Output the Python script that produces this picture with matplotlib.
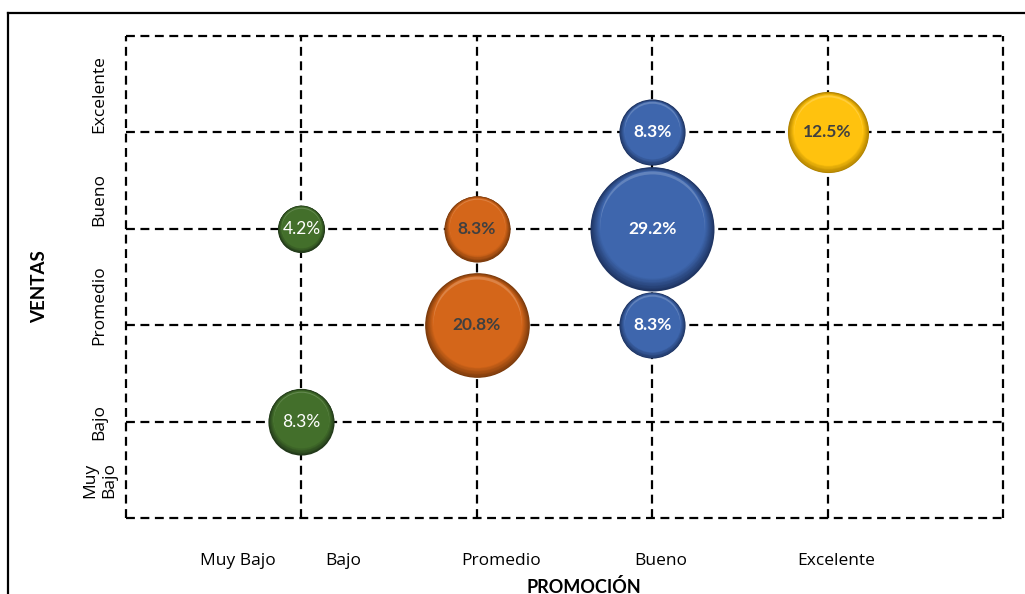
import matplotlib.pyplot as plt
import matplotlib.colors as mcolors
import matplotlib.transforms as mtransforms
import numpy as np
from matplotlib.lines import Line2D

# niveles de la escala (promoción en X, ventas en Y)
niveles_x = ['Muy Bajo', 'Bajo', 'Promedio', 'Bueno', 'Excelente']
niveles_y = ['Muy\nBajo', 'Bajo', 'Promedio', 'Bueno', 'Excelente']

# burbujas: posición en la escala y porcentaje de empresas
promocion = [1, 1, 2, 2, 3, 3, 3, 4]
ventas = [3, 1, 3, 2, 4, 3, 2, 4]
porcentaje = [4.2, 8.3, 8.3, 20.8, 8.3, 29.2, 8.3, 12.5]
grupo = ['bajo', 'bajo', 'prom', 'prom', 'bueno', 'bueno', 'bueno', 'exc']

# posiciones de las etiquetas de los ejes
pos_x = [0.64, 1.24, 2.14, 3.05, 4.05]
pos_y = [0.39, 1.0, 2.21, 3.30, 4.40]

estilo = {
    'bajo':  dict(base='#436f2b', borde='#22391a', texto='white', peso='normal'),
    'prom':  dict(base='#d4661a', borde='#7a3a0c', texto='#404040', peso='bold'),
    'bueno': dict(base='#3e66ad', borde='#1f3563', texto='white', peso='bold'),
    'exc':   dict(base='#ffc20e', borde='#b08200', texto='#404040', peso='bold'),
}

ESCALA = 273  # puntos^2 por punto porcentual

fig = plt.figure(figsize=(10.25, 5.94), dpi=100)
ax = fig.add_axes([0.1229, 0.128, 0.8556, 0.8114])
ax.set_xlim(0, 5)
ax.set_ylim(0, 5)

# rejilla punteada, incluido el marco
for v in range(6):
    ax.axvline(v, color='black', lw=1.6, ls=(0, (4, 2.5)), clip_on=False, zorder=1)
    ax.axhline(v, color='black', lw=1.6, ls=(0, (4, 2.5)), clip_on=False, zorder=1)
for s in ax.spines.values():
    s.set_visible(False)


def desplazado(dy):
    return mtransforms.offset_copy(ax.transData, fig=fig, x=0, y=dy, units='points')


# burbujas con bisel: borde oscuro abajo, brillo arriba
for x, y, p, g in zip(promocion, ventas, porcentaje, grupo):
    st = estilo[g]
    s = p * ESCALA
    d = np.sqrt(s)
    base = np.array(mcolors.to_rgb(st['base']))
    borde = np.array(mcolors.to_rgb(st['borde']))
    n = 12
    for i in range(n):
        t = i / (n - 1)
        f = 1.0 - 0.14 * t
        c = borde * (1 - t) + base * t
        ax.scatter([x], [y], s=s * f ** 2, color=c, lw=0, zorder=3,
                   transform=desplazado(0.035 * d * t))
    # arco de brillo en la parte superior
    luz = base * 0.45 + 0.55
    ax.scatter([x], [y], s=s * 0.84 ** 2, color=luz, alpha=0.35, lw=0, zorder=4,
               transform=desplazado(0.045 * d))
    ax.scatter([x], [y], s=s * 0.84 ** 2, color=base, lw=0, zorder=4,
               transform=desplazado(0.02 * d))
    ax.text(x, y, f'{p:.1f}%', ha='center', va='center', color=st['texto'],
            fontsize=12.5, fontweight=st['peso'], family='Lato', zorder=5)

ax.set_xticks(pos_x, niveles_x, fontsize=12.5, family='Open Sans')
ax.set_yticks(pos_y, niveles_y, fontsize=12.5, family='Open Sans',
              rotation=90, ha='center', va='center')
ax.tick_params(axis='x', length=0, pad=25)
ax.tick_params(axis='y', length=0, pad=19)

fig.text(0.570, 0.002, 'PROMOCIÓN', ha='center', va='baseline', fontsize=13,
         fontweight='bold', family='Lato')
fig.text(0.039, 0.517, 'VENTAS', ha='center', va='center', rotation=90,
         fontsize=13.5, fontweight='bold', family='Lato')

# marco del área del gráfico
fig.add_artist(Line2D([0.0078, 1.0], [0.978, 0.978], color='black', lw=1.6,
                      transform=fig.transFigure))
fig.add_artist(Line2D([0.0078, 0.0078], [0.0, 0.978], color='black', lw=1.6,
                      transform=fig.transFigure))

fig.savefig('out.png', dpi=100)
